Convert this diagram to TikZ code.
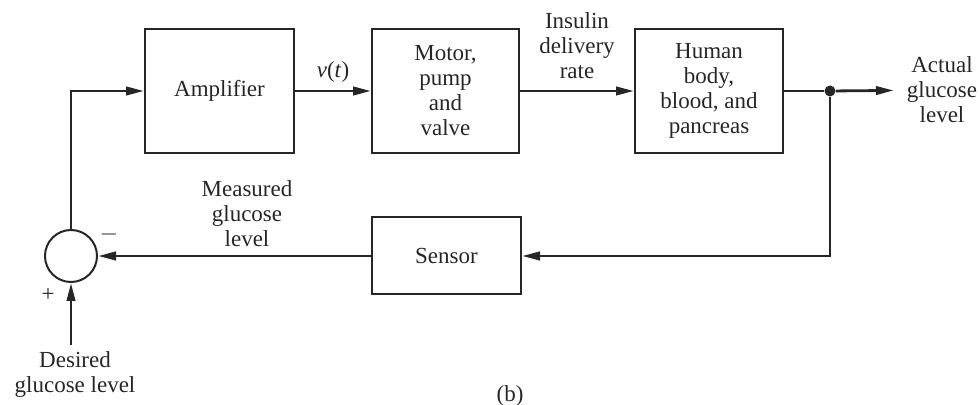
\documentclass[tikz,border=0pt]{standalone}
\usepackage{fontspec}
\setmainfont{Liberation Serif}
\usetikzlibrary{arrows.meta}
\colorlet{ink}{black!85}
\begin{document}
\begin{tikzpicture}[x=0.5pt,y=-0.5pt,font=\fontsize{11.5}{12.5}\selectfont,
  every node/.style={text=ink},
  blk/.style={draw=ink,line width=1pt,align=center,inner sep=0pt,minimum height=62pt},
  sig/.style={draw=ink,line width=1.4pt,-{Triangle[length=9pt,width=4.2pt]}},
  wire/.style={draw=ink,line width=1.4pt}]
  \useasboundingbox (0,0) rectangle (980,405);
  \node[blk,minimum width=74.5pt] (amp) at (219.5,91) {Amplifier};
  \node[blk,minimum width=73.5pt] (motor) at (445.5,91) {Motor,\\pump\\and\\valve};
  \node[blk,minimum width=74pt] (body) at (709,91) {Human\\body,\\blood, and\\pancreas};
  \node[blk,minimum width=74.5pt,minimum height=38.5pt] (sensor) at (446.5,256) {Sensor};
  \node[draw=ink,circle,line width=1pt,minimum size=26pt,inner sep=0pt] (sum) at (71,256) {};
  \node[circle,fill=ink,inner sep=0pt,minimum size=5.5pt] (tap) at (830,91) {};
  \node[align=center] (actual) at (942,90) {Actual\\glucose\\level};
  \node[align=center] (desired) at (75,375) {Desired\\glucose level};
  \node (vt) at (333,72) {\textit{v}(\textit{t})};
  \node[align=center] (insulin) at (577,46) {Insulin\\delivery\\rate};
  \node[align=center] (measured) at (247,214) {Measured\\glucose\\level};
  \node (plus) at (48,295) {+};
  \node (minus) at (109,235) {$-$};
  \node (caption) at (510,396) {(b)};
  \draw[sig] (amp) -- (motor);
  \draw[sig] (motor) -- (body);
  \draw[wire] (body) -- (tap);
  \draw[sig,shorten >=3pt] (tap) -- (actual);
  \draw[sig] (tap) |- (sensor.east);
  \draw[sig] (sensor) -- (sum);
  \draw[sig] (sum.north) |- (amp.west);
  \draw[sig] (desired.north -| sum.south) -- (sum.south);
\end{tikzpicture}
\end{document}
